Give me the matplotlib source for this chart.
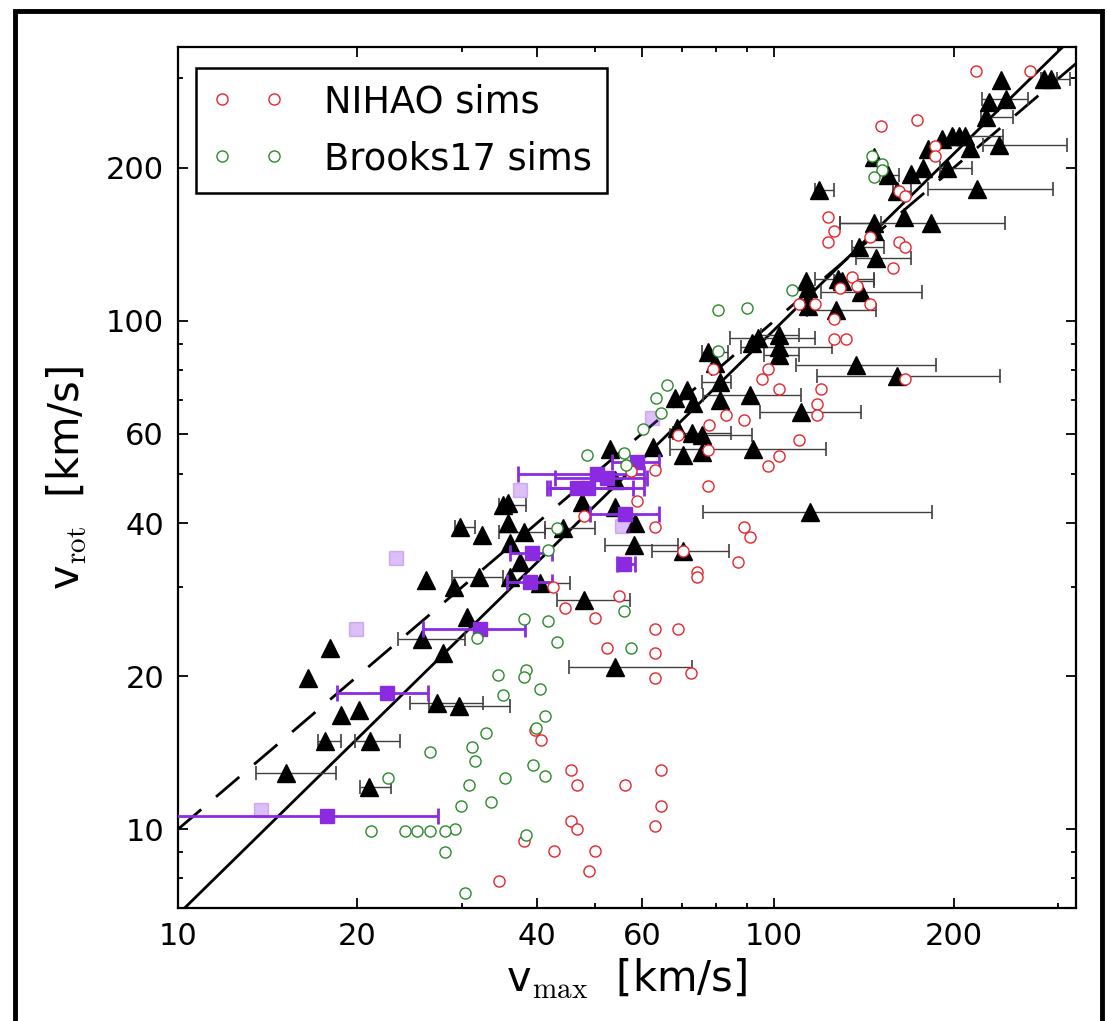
import numpy as np
import matplotlib
matplotlib.use("Agg")
import matplotlib.pyplot as plt
from matplotlib.ticker import FixedLocator, FixedFormatter, NullFormatter
from matplotlib.patches import Rectangle

plt.rcParams["font.family"] = "DejaVu Sans"
plt.rcParams["mathtext.fontset"] = "cm"

# ---- NIHAO sims (open red circles) ----
nihao_vmax = [218, 269, 151, 174, 186, 186, 162, 166, 145, 162, 166, 158, 135, 138,
              123, 126, 123, 129, 145, 117, 110, 126, 126, 132, 97.6, 95.4, 102, 120,
              118, 118, 166, 89.1, 83.1, 77.8, 69.1, 77.6, 110, 102, 97.6, 79.1, 63.1,
              77.6, 58.9, 57.5, 47.9, 63.1, 89.2, 91.1, 70.3, 86.9, 74.2, 74.2, 55.0,
              42.6, 63.1, 69.1, 52.4, 63.1, 63.1, 72.5, 44.6, 50.0, 39.7, 40.7, 45.7,
              46.7, 56.3, 64.5, 64.5, 63.1, 45.7, 46.7, 38.0, 42.7, 50.1, 48.9, 34.6]
nihao_vrot = [311, 311, 242, 248, 221, 211, 180, 176, 146, 143, 140, 127, 122, 117,
              160, 150, 143, 116, 108, 108, 108, 101, 92, 92, 80.4, 76.8, 73.4, 73.4,
              68.6, 65.3, 76.8, 63.8, 65.3, 62.4, 59.7, 55.7, 58.3, 54.2, 51.8, 80.4, 50.9,
              47.4, 44.2, 50.7, 41.3, 39.4, 39.4, 37.6, 35.2, 33.6, 32.1, 31.4, 28.8,
              30.0, 24.8, 24.8, 22.7, 22.2, 19.8, 20.3, 27.3, 26.0, 15.7, 15.0, 13.1,
              12.2, 12.2, 13.1, 11.1, 10.15, 10.4, 10.0, 9.47, 9.05, 9.05, 8.27, 7.9]

# ---- Brooks17 sims (open green circles) ----
brooks_vmax = [146, 152, 152, 147, 80.5, 90, 107, 80.5, 66, 63.4, 64.5, 60.3, 48.6,
               56.0, 56.5, 43.2, 41.7, 38.1, 41.7, 43.2, 56.0, 57.5, 31.8, 38.4, 38.0,
               34.4, 40.5, 35.1, 41.3, 39.9, 32.8, 31.1, 31.5, 26.5, 39.4, 41.2, 35.4,
               30.8, 22.5, 33.5, 29.8, 29.2, 21.1, 24.0, 25.2, 26.5, 28.0, 38.4, 28.0, 30.3]
brooks_vrot = [211, 204, 198, 192, 105, 106, 115, 87.4, 74.8, 70.6, 66.0, 61.2, 54.5,
               54.9, 52.1, 39.1, 35.4, 25.9, 25.7, 23.4, 26.9, 22.7, 23.8, 20.6, 19.9,
               20.1, 18.9, 18.4, 16.7, 15.8, 15.5, 14.5, 13.6, 14.2, 13.4, 12.7, 12.6,
               12.2, 12.6, 11.3, 11.1, 10.0, 9.9, 9.9, 9.9, 9.9, 9.9, 9.73, 9.0, 7.5]

# ---- observed galaxies (black triangles); bar limits, nan = no bar ----
nan = np.nan
obs_vmax = [240, 284, 292, 229, 245, 227, 181, 191, 199, 204, 209, 213, 238, 195,
            178, 170, 155, 147, 219, 161, 165, 183, 147, 147, 139, 148, 130, 119,
            113, 114, 114, 128, 140, 127, 114, 94.1, 91.8, 102, 102, 102, 77.6, 79.6,
            137, 161, 81.2, 81.2, 91.1, 71.4, 68.2, 73.2, 111, 68.7, 72.8, 75.6, 62.7,
            70.3, 75.6, 92.1, 53.1, 54.1, 58.5, 54.1, 47.6, 35.1, 35.8, 29.7, 32.3,
            35.8, 38.0, 44.3, 36.1, 37.5, 26.1, 29.0, 32.0, 36.1, 40.5, 47.9, 30.5,
            58.1, 70.4, 115, 25.7, 27.8, 54.1, 18.0, 16.5, 18.8, 20.1, 27.2, 29.6,
            17.65, 21.0, 15.2, 20.9]
obs_vrot = [298, 299, 299, 270, 273, 252, 218, 228, 231, 231, 231, 219, 222, 200,
            200, 195, 194, 210, 182, 180, 160, 156, 156, 150, 140, 133, 120, 181,
            120, 116, 110, 121, 114, 105, 107, 92.5, 90.4, 93.9, 89.0, 85.7, 87.0, 82.8,
            81.9, 77.9, 75.9, 69.9, 71.5, 73.1, 70.4, 68.9, 66.1, 61.5, 60.1, 59.7, 56.6,
            54.5, 55.3, 56.1, 56.1, 43.1, 40.0, 48.6, 44.1, 43.4, 43.9, 39.4, 37.9,
            40.0, 38.5, 39.1, 36.5, 33.5, 30.9, 30.0, 31.4, 31.4, 30.5, 28.3, 26.2,
            36.2, 35.2, 42.1, 23.7, 22.2, 20.9, 22.7, 19.8, 16.8, 17.2, 17.7, 17.5,
            14.9, 14.9, 12.9, 12.1]
obs_lo = [nan, 280, 283, nan, 223, 222, nan, nan, nan, nan, 200, nan, 224, 190,
          nan, nan, 150, nan, 181, 158, nan, 129, 129, nan, 135, 137, 126, 117,
          nan, nan, nan, 117, 120, 113.5, nan, 84.3, nan, 95, 88, 96, 75.6, nan,
          109, 118, 75.6, nan, 76, nan, nan, nan, 94.7, nan, 67.7, 67, nan,
          nan, nan, 66.9, nan, nan, nan, nan, nan, 34.5, nan, 29.1, nan,
          nan, 34.5, 41.3, nan, nan, nan, nan, 28.8, nan, 38.5, 43.2, nan,
          52, 62.5, 75.9, 23.4, nan, 45.3, nan, nan, nan, nan, 24.5, 26.4,
          17.2, 19.8, 13.5, 20.2]
obs_hi = [nan, 298, 314, nan, 267, 252, nan, nan, nan, nan, 242, nan, 310, 215,
          nan, nan, 162, nan, 294, 170, nan, 244, 151, nan, 153, 170, 147, 126,
          nan, nan, nan, 147, 177, 148, nan, 117, nan, 110, 125, 110, 83.6, nan,
          187, 239, 84.8, nan, 111, nan, nan, nan, 140, nan, 84.8, 91.7, nan,
          nan, nan, 122, nan, nan, nan, nan, nan, 38.4, nan, 31.5, nan,
          nan, 41.3, 50.1, nan, nan, nan, nan, 35.1, nan, 45.4, 57.3, nan,
          69.1, 84, 184, 30.3, nan, 72.8, nan, nan, nan, nan, 32.5, 36.1,
          18.8, 23.6, 18.4, 22.8]

# ---- purple squares with bars, and faint squares ----
sq_vmax = [50.4, 52.4, 46.7, 48.8, 58.9, 56.2, 56.0, 39.2, 39.0, 32.1, 22.4, 17.8]
sq_vrot = [50.1, 49.0, 46.9, 46.9, 52.7, 41.8, 33.2, 34.9, 30.7, 24.8, 18.5, 10.6]
sq_lo = [37.2, 42.9, 41.6, 42.0, 53.4, 49.1, 54.5, 36.1, 35.6, 25.8, 18.5, 8.5]
sq_hi = [60.4, 61.1, 60.4, 58.0, 64.0, 64.0, 58.4, 42.4, 42.4, 38.2, 26.3, 27.3]
faint_vmax = [13.8, 19.9, 23.2, 37.5, 55.5, 62.3]
faint_vrot = [10.9, 24.8, 34.2, 46.4, 39.5, 64.4]

# relations
FIT_SLOPE = 1.15
FIT_V100 = 96.0
XMIN, XMAX, YMIN, YMAX = 10, 321, 7, 346
PURPLE = "#8a2be2"

fig = plt.figure(figsize=(11.07, 10.21), dpi=100)
ax = fig.add_axes([0.1608, 0.1107, 0.8112, 0.8433])
ax.set_xscale("log"); ax.set_yscale("log")

vv = np.logspace(1, np.log10(340), 200)
ax.plot(vv, vv, color="k", lw=2, dashes=(11, 7), zorder=1)
ax.plot(vv, FIT_V100 * (vv / 100.0) ** FIT_SLOPE, color="k", lw=2, zorder=1)

ox = np.array(obs_vmax); oy = np.array(obs_vrot)
lo = np.array(obs_lo); hi = np.array(obs_hi)
m = ~np.isnan(lo)
ax.errorbar(ox[m], oy[m], xerr=[ox[m] - lo[m], hi[m] - ox[m]], fmt="none",
            ecolor="0.25", elinewidth=1.0, capsize=5, capthick=1.2, zorder=2)
ax.plot(ox, oy, "^", color="k", ms=12.5, mec="k", ls="none", zorder=3)

ax.plot(faint_vmax, faint_vrot, "s", color=PURPLE, alpha=0.3, ms=10.5, ls="none", zorder=3.5)
sx = np.array(sq_vmax); sy = np.array(sq_vrot)
ax.errorbar(sx, sy, xerr=[sx - np.array(sq_lo), np.array(sq_hi) - sx], fmt="s",
            color=PURPLE, ms=10.5, mec=PURPLE, elinewidth=2, capsize=6, capthick=2, zorder=4)

ax.plot(nihao_vmax, nihao_vrot, "o", ls="none", ms=8, mfc="w", mec="#e8242b",
        mew=1.0, zorder=5, label="NIHAO sims")
ax.plot(brooks_vmax, brooks_vrot, "o", ls="none", ms=8, mfc="w", mec="#2a8a2a",
        mew=1.0, zorder=5, label="Brooks17 sims")

ax.set_xlim(XMIN, XMAX); ax.set_ylim(YMIN, YMAX)
major = [10, 20, 40, 60, 100, 200]
ax.xaxis.set_major_locator(FixedLocator(major))
ax.xaxis.set_major_formatter(FixedFormatter([str(t) for t in major]))
ax.xaxis.set_minor_locator(FixedLocator([30, 50, 70, 80, 90, 300]))
ax.xaxis.set_minor_formatter(NullFormatter())
ax.yaxis.set_major_locator(FixedLocator(major))
ax.yaxis.set_major_formatter(FixedFormatter([str(t) for t in major]))
ax.yaxis.set_minor_locator(FixedLocator([8, 9, 30, 50, 70, 80, 90, 300]))
ax.yaxis.set_minor_formatter(NullFormatter())
ax.tick_params(which="both", direction="in", top=True, right=True, width=1.3)
ax.tick_params(which="major", length=7, labelsize=22, pad=10)
ax.tick_params(which="minor", length=3.5)
for s in ax.spines.values():
    s.set_linewidth(1.6)

ax.set_xlabel(r"v$_{\rm max}$  [km/s]", fontsize=30, labelpad=4)
ax.set_ylabel(r"v$_{\rm rot}$  [km/s]", fontsize=30, labelpad=12)

leg = ax.legend(loc="upper left", bbox_to_anchor=(0.02, 0.976), borderaxespad=0,
                numpoints=2, fontsize=26.5, fancybox=False, framealpha=1,
                edgecolor="k", handlelength=2.0, handletextpad=1.05,
                labelspacing=0.55, borderpad=0.42)
leg.get_frame().set_linewidth(1.8)

# outer frame round the whole figure
fig.patches.append(Rectangle((15 / 1107, -0.05), 1087 / 1107, 1.05 - 11 / 1021,
                             transform=fig.transFigure, fill=False, ec="k", lw=3.5))

fig.savefig("out.png", dpi=100)
